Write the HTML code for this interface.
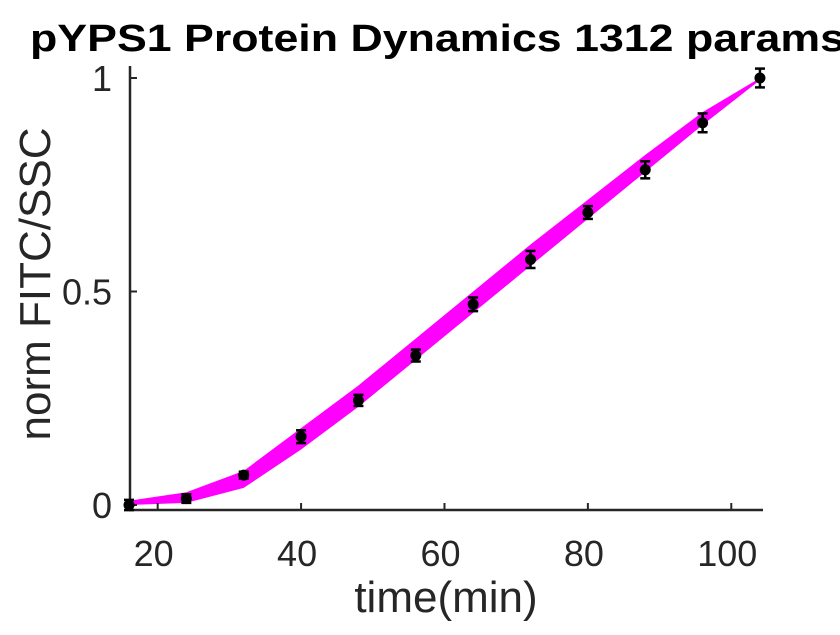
<!DOCTYPE html>
<html><head><meta charset="utf-8"><style>
body{margin:0;background:#fff;}
svg text{font-family:"Liberation Sans",Arial,sans-serif;fill:#262626;}
</style></head><body>
<svg id="chart" width="840" height="630">
<text x="30" y="51" font-size="38" font-weight="bold" textLength="815" lengthAdjust="spacingAndGlyphs" style="fill:#000">pYPS1 Protein Dynamics 1312 params</text>
<g id="band"></g>
<g id="axes"></g>
<g id="pts"></g>
<text x="446" y="612" text-anchor="middle" font-size="44">time(min)</text>
<text transform="translate(50,284) rotate(-90)" text-anchor="middle" font-size="44">norm FITC/SSC</text>
</svg>
<script>
const times=[16,24,32,40,48,56,64,72,80,88,96,104];
const bandLow=[0,0.005,0.04,0.13,0.23,0.34,0.45,0.56,0.67,0.78,0.89,0.995];
const bandHigh=[0.01,0.03,0.08,0.18,0.28,0.39,0.50,0.61,0.715,0.82,0.92,1.0];
const meanVals=[0,0.015,0.07,0.16,0.245,0.35,0.47,0.575,0.685,0.785,0.895,1.0];
const errVals=[0.012,0.01,0.008,0.015,0.013,0.014,0.016,0.02,0.015,0.02,0.022,0.022];
const xTicks=[20,40,60,80,100];
const yTicks=[0,0.5,1];
const yTickLabels=["0","0.5","1"];
const X=v=>129+(v-16)*7.17;
const Y=v=>505-v*427;
const NS="http://www.w3.org/2000/svg";
function mk(tag,attrs,parent){const e=document.createElementNS(NS,tag);for(const k in attrs)e.setAttribute(k,attrs[k]);parent.appendChild(e);return e;}
const band=document.getElementById('band');
let d=times.map((t,i)=>(i?'L':'M')+X(t)+','+Y(bandHigh[i])).join('');
for(let i=times.length-1;i>=0;i--)d+='L'+X(times[i])+','+Y(bandLow[i]);
const bp=mk('path',{d:d+'Z',fill:'#ff00ff'},band);


const ax=document.getElementById('axes');
mk('line',{x1:130,y1:66,x2:130,y2:511,stroke:'#262626','stroke-width':2.5},ax);
mk('line',{x1:129,y1:510,x2:763,y2:510,stroke:'#262626','stroke-width':2.5},ax);
xTicks.forEach(t=>{
 mk('line',{x1:X(t),y1:510,x2:X(t),y2:503,stroke:'#262626','stroke-width':2},ax);
 const tx=mk('text',{x:X(t)-4,y:566,'text-anchor':'middle','font-size':36},ax);tx.textContent=t;
 
 
});
yTicks.forEach((t,i)=>{
 mk('line',{x1:130,y1:Y(t),x2:137,y2:Y(t),stroke:'#262626','stroke-width':2},ax);
 const tx=mk('text',{x:112,y:Y(t)+13,'text-anchor':'end','font-size':36},ax);tx.textContent=yTickLabels[i];
 
 
});
const pts=document.getElementById('pts');
times.forEach((t,i)=>{
 const g=mk('g',{},pts);
 
 
 const x=X(t),y1=Y(meanVals[i]+errVals[i]),y2=Y(meanVals[i]-errVals[i]);
 mk('line',{x1:x,y1:y1,x2:x,y2:y2,stroke:'#000','stroke-width':2.5},g);
 mk('line',{x1:x-5,y1:y1,x2:x+5,y2:y1,stroke:'#000','stroke-width':2.5},g);
 mk('line',{x1:x-5,y1:y2,x2:x+5,y2:y2,stroke:'#000','stroke-width':2.5},g);
 mk('circle',{cx:x,cy:Y(meanVals[i]),r:5.5,fill:'#000'},g);
});
</script>
</body></html>
